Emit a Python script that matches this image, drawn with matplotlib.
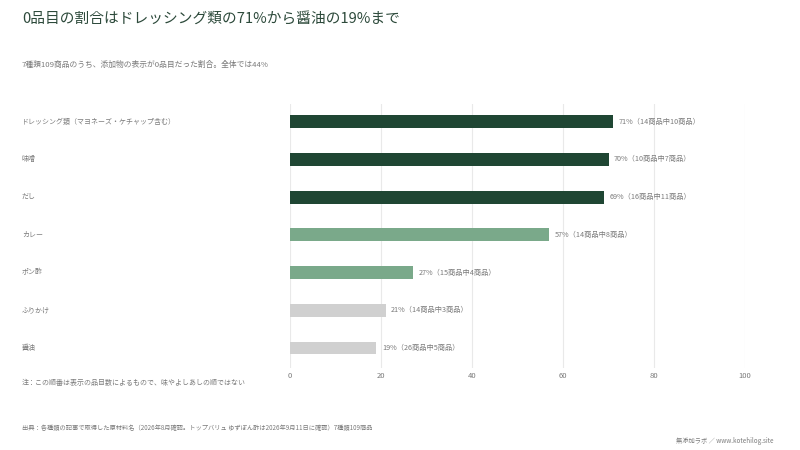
import matplotlib
matplotlib.use("Agg")
import matplotlib.pyplot as plt

plt.rcParams['font.family'] = ['Noto Sans CJK JP', 'DejaVu Sans']

categories = ["ドレッシング類（マヨネーズ・ケチャップ含む）", "味噌", "だし", "カレー", "ポン酢", "ふりかけ", "醤油"]
values = [71, 70, 69, 57, 27, 21, 19]
value_labels = ["71%（14商品中10商品）", "70%（10商品中7商品）", "69%（16商品中11商品）",
                "57%（14商品中8商品）", "27%（15商品中4商品）", "21%（14商品中3商品）",
                "19%（26商品中5商品）"]
groups = ["high", "high", "high", "mid", "mid", "low", "low"]
xticks = [0, 20, 40, 60, 80, 100]

color_map = {"high": "#1f4633", "mid": "#7aa98a", "low": "#d0d0d0"}
text_grey = "#7a7a7a"

fig = plt.figure(figsize=(8, 4.5), dpi=100)
ax = fig.add_axes([290/800, 1-368/450, 455/800, 264/450])

ypos = list(range(len(categories)))
ax.barh(ypos, values, height=0.34, color=[color_map[g] for g in groups], zorder=3)
ax.set_ylim(len(categories) - 0.5 + 0.03, -0.47)
ax.set_xlim(0, 100)
ax.set_xticks(xticks)
ax.set_xticklabels([str(t) for t in xticks], fontsize=5.5, color=text_grey)
ax.tick_params(axis='x', length=0, pad=3)
ax.set_yticks([])
for s in ax.spines.values():
    s.set_visible(False)
ax.grid(axis='x', color="#e9e9e9", linewidth=0.8, zorder=0)
ax.set_axisbelow(True)

for y, v, lab in zip(ypos, values, value_labels):
    ax.annotate(lab, (v, y), xytext=(4, 0), textcoords='offset points',
                va='center', ha='left', fontsize=5.2, color=text_grey)

for y, c in zip(ypos, categories):
    ax.annotate(c, (0, y), xycoords=('figure fraction', 'data'), xytext=(22, 0),
                textcoords='offset pixels', va='center', ha='left', fontsize=5, color=text_grey)

fig.text(22/800, 1-20/450, "0品目の割合はドレッシング類の71%から醤油の19%まで",
         fontsize=10.6, color="#2d4a3b", va='center', ha='left')
fig.text(22/800, 1-65/450, "7種類109商品のうち、添加物の表示が0品目だった割合。全体では44%",
         fontsize=5.6, color=text_grey, va='center', ha='left')
fig.text(22/800, 1-383/450, "注：この順番は表示の品目数によるもので、味やよしあしの順ではない",
         fontsize=5, color=text_grey, va='center', ha='left')
fig.text(22/800, 1-428/450, "出典：各種類の記事で取得した原材料名（2026年8月確認。トップバリュ ゆずぽん酢は2026年9月11日に確認）7種類109商品",
         fontsize=4.5, color=text_grey, va='center', ha='left')
fig.text(773/800, 1-441/450, "無添加ラボ ／ www.kotehilog.site",
         fontsize=4.5, color=text_grey, va='center', ha='right')

fig.savefig("out.png", dpi=100, facecolor="white")
